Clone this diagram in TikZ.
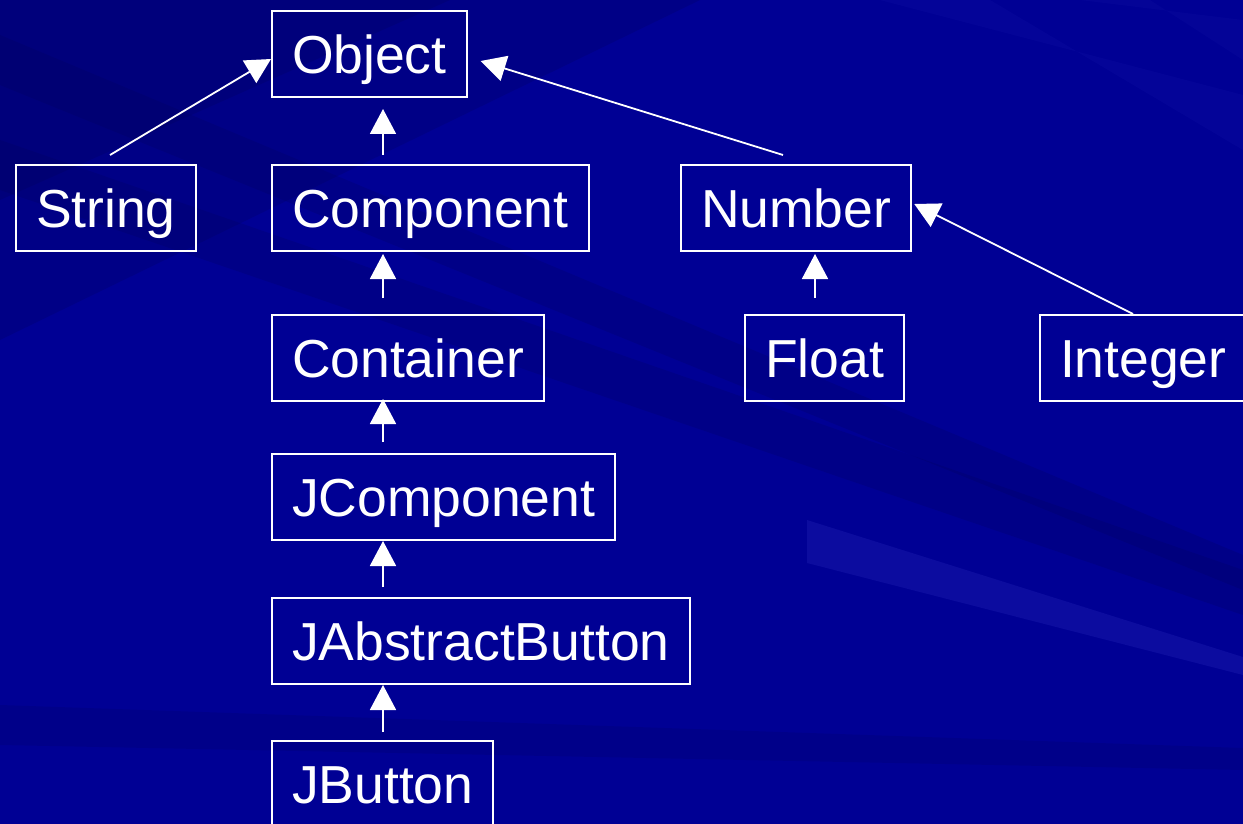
\documentclass[tikz,border=0pt]{standalone}
\usepackage{fontspec}
\setmainfont{Liberation Sans}
\usetikzlibrary{arrows.meta}
\definecolor{bgblue}{RGB}{0,0,148}
\definecolor{bgdark}{RGB}{0,0,80}
\definecolor{bglight}{RGB}{40,40,185}

\tikzset{
	cls/.style={draw=white, line width=2pt, text=white, anchor=north west,
		inner xsep=20pt, inner ysep=0pt, minimum height=86pt,
		text height=38.3pt, text depth=0pt, font=\fontsize{53.5}{60}\selectfont},
	inh/.style={draw=white, line width=1.8pt, -{Triangle[width=26pt,length=25pt]}},
}

\begin{document}
\begin{tikzpicture}[x=1pt,y=-1pt]
		%%%%% BACKGROUND %%%%%
		\useasboundingbox (0,0) rectangle (1243,824);
		\fill[bgblue] (0,0) rectangle (1243,824);
		\fill[bgdark, opacity=0.2] (0,0) -- (700,0) -- (0,340) -- cycle;
		\fill[bgdark, opacity=0.2] (0,0) -- (450,0) -- (0,200) -- cycle;
		\fill[bgdark, opacity=0.18] (0,35) -- (0,85) -- (1243,590) -- (1243,555) -- cycle;
		\fill[bgdark, opacity=0.18] (0,140) -- (0,190) -- (1243,615) -- (1243,570) -- cycle;
		\fill[bglight, opacity=0.3] (807,520) -- (1243,657) -- (1243,675) -- (807,563) -- cycle;
		\fill[bglight, opacity=0.12] (880,0) -- (990,0) -- (1243,150) -- (1243,95) -- cycle;
		\fill[bglight, opacity=0.1] (1080,0) -- (1150,0) -- (1243,60) -- (1243,20) -- cycle;
		\fill[bgdark, opacity=0.15] (0,705) -- (0,745) -- (1243,770) -- (1243,748) -- cycle;
		
		%%%%% CLASSES %%%%%
		\node[cls] (object) at (271,10) {Object};
		\node[cls] (string) at (15,164) {String};
		\node[cls] (component) at (271,164) {Component};
		\node[cls] (number) at (680,164) {Number};
		\node[cls] (container) at (271,314) {Container};
		\node[cls] (float) at (744,314) {Float};
		\node[cls] (integer) at (1039,314) {Integer};
		\node[cls] (jcomponent) at (271,453) {JComponent};
		\node[cls] (jabstractbutton) at (271,597) {JAbstractButton};
		\node[cls] (jbutton) at (271,740) {JButton};
		
		%%%%% INHERITANCE %%%%%
		\draw[inh] ([xshift=95pt,yshift=9pt]string.north west) -- ([yshift=-5pt]object.west);
		\draw[inh] ([xshift=112pt,yshift=9pt]component.north west) -- ([xshift=112pt,yshift=-11pt]object.south west);
		\draw[inh] ([xshift=103pt,yshift=9pt]number.north west) -- ([xshift=13pt,yshift=-7pt]object.east);
		
		\draw[inh] ([xshift=112pt,yshift=16pt]container.north west) -- ([xshift=112pt,yshift=-2pt]component.south west);
		\draw[inh] ([xshift=112pt,yshift=11pt]jcomponent.north west) -- ([xshift=112pt,yshift=3pt]container.south west);
		\draw[inh] ([xshift=112pt,yshift=10pt]jabstractbutton.north west) -- ([xshift=112pt]jcomponent.south west);
		\draw[inh] ([xshift=112pt,yshift=8pt]jbutton.north west) -- ([xshift=112pt]jabstractbutton.south west);
		
		\draw[inh] ([xshift=71pt,yshift=16pt]float.north west) -- ([xshift=135pt,yshift=-2pt]number.south west);
		\draw[inh] ([xshift=94pt]integer.north west) -- ([xshift=2pt,yshift=4pt]number.east);
		
		%%%%% END %%%%%
\end{tikzpicture}
\end{document}
